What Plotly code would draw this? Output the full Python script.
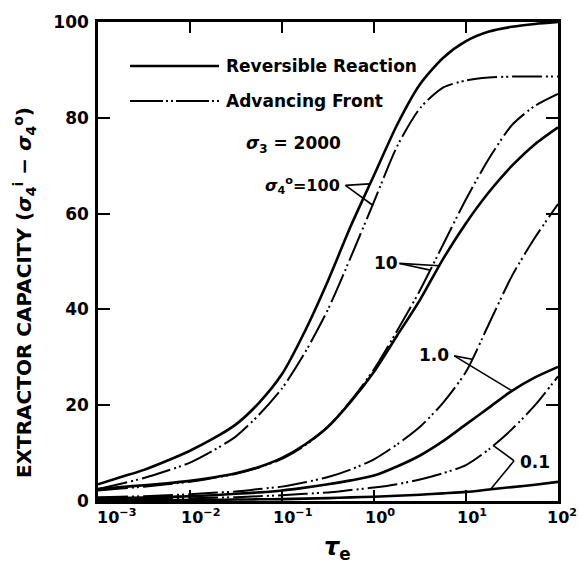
import plotly.graph_objects as go

# ---- data (every quarter decade of tau_e) ----
tau = [10 ** (k / 4.0) for k in range(-12, 9)]  # 1e-3 ... 1e2

rev_100 = [3.5, 5.0, 6.5, 8.4, 10.5, 13.0, 16.0, 20.5, 26.5, 35.5, 46.0, 57.5, 68.0, 78.5, 87.0, 92.5, 96.0, 98.0, 99.0, 99.6, 100.0]
adv_100 = [2.5, 3.6, 4.8, 6.3, 8.0, 10.5, 13.5, 18.0, 23.5, 31.0, 40.0, 51.0, 62.5, 74.0, 82.0, 86.3, 87.8, 88.4, 88.6, 88.6, 88.6]
rev_10 = [2.5, 2.9, 3.3, 3.7, 4.2, 4.9, 5.8, 7.1, 9.0, 11.8, 15.5, 20.8, 27.0, 34.5, 42.0, 50.5, 58.0, 64.5, 70.0, 74.5, 78.0]
adv_10 = [2.2, 2.6, 3.0, 3.5, 4.0, 4.8, 5.7, 7.0, 8.8, 11.6, 15.5, 21.0, 27.5, 35.5, 44.0, 53.5, 63.0, 71.5, 78.5, 82.5, 85.0]
rev_1 = [0.5, 0.6, 0.7, 0.85, 1.0, 1.2, 1.5, 1.8, 2.2, 2.8, 3.5, 4.3, 5.3, 7.2, 9.5, 12.5, 16.0, 19.5, 23.0, 25.8, 28.0]
adv_1 = [0.8, 0.9, 1.0, 1.2, 1.4, 1.7, 2.0, 2.5, 3.0, 3.9, 5.0, 6.6, 8.7, 11.8, 15.5, 20.5, 27.0, 37.0, 47.0, 55.0, 62.0]
rev_01 = [0.1, 0.12, 0.15, 0.17, 0.2, 0.25, 0.3, 0.35, 0.4, 0.5, 0.6, 0.75, 0.9, 1.1, 1.3, 1.6, 1.9, 2.4, 2.9, 3.4, 4.0]
adv_01 = [0.3, 0.35, 0.4, 0.5, 0.6, 0.7, 0.8, 1.0, 1.2, 1.5, 1.8, 2.3, 2.8, 3.5, 4.5, 5.8, 7.5, 10.8, 15.0, 20.0, 26.0]

x_tick_exps = [-3, -2, -1, 0, 1, 2]
y_tick_vals = [0, 20, 40, 60, 80, 100]

# label leader lines: (tau, value) start -> tip on curve
ptr_100 = [([0.49, 0.89], [65.9, 66.2]), ([0.49, 0.96], [65.9, 61.8])]
ptr_10 = [([1.89, 5.12], [49.6, 49.1]), ([1.89, 4.09], [49.6, 48.2])]
ptr_1 = [([7.45, 11.7], [30.3, 29.6]), ([7.45, 31.6], [30.3, 23.0])]
ptr_01 = [([33.3, 19.7], [8.4, 11.6]), ([33.3, 18.6], [8.4, 2.5])]

FONT = "DejaVu Sans, Liberation Sans, Arial, sans-serif"
DASH = "30px,4px,2px,3px,2px,4px"

fig = go.Figure()

for ys in [rev_100, rev_10, rev_1, rev_01]:
    fig.add_trace(go.Scatter(x=tau, y=ys, mode="lines",
                             line=dict(color="black", width=2.6, shape="spline", smoothing=0.7),
                             showlegend=False, hoverinfo="skip"))
for ys in [adv_100, adv_10, adv_1, adv_01]:
    fig.add_trace(go.Scatter(x=tau, y=ys, mode="lines",
                             line=dict(color="black", width=2.0, dash=DASH, shape="spline", smoothing=0.7),
                             showlegend=False, hoverinfo="skip"))

for group in (ptr_100, ptr_10, ptr_1, ptr_01):
    for xs, ys in group:
        fig.add_trace(go.Scatter(x=xs, y=ys, mode="lines", line=dict(color="black", width=1.6),
                                 showlegend=False, hoverinfo="skip"))

annotations = []
# x tick labels ("10" centred on the tick, exponent to its right)
for e in x_tick_exps:
    shift = -3 if e == -3 else (-13 if e == 2 else -11)
    annotations.append(dict(x=e, y=0, xref="x", yref="paper", xanchor="left", yanchor="top",
                            xshift=shift, yshift=-3, showarrow=False,
                            text="10<sup>" + ("−" if e < 0 else "") + str(abs(e)) + "</sup>",
                            font=dict(family=FONT, size=16, color="black", weight="bold")))


def pax(px):
    return (px - 98) / 460.0


def pay(py):
    return (501 - py) / 479.0


def txt(text, x, y, xanchor="center", size=17, **kw):
    annotations.append(dict(x=pax(x), y=pay(y), xref="paper", yref="paper", xanchor=xanchor, yanchor="middle",
                            showarrow=False, text=text,
                            font=dict(family=FONT, size=size, color="black", weight="bold"), **kw))


# legend texts
txt("Reversible Reaction", 224, 66, xanchor="left")
txt("Advancing Front", 224, 101, xanchor="left")
txt("<i>σ</i><sub>3</sub> = 2000", 293, 144)
txt("<i>σ</i><sub>4</sub><sup>o</sup>=100", 342, 185, xanchor="right", size=16)
txt("10", 386, 263)
txt("1.0", 451, 355, xanchor="right")
txt("0.1", 518, 462, xanchor="left")

# axis titles
txt("EXTRACTOR CAPACITY (<i>σ</i><sub>4</sub><sup>i</sup> − <i>σ</i><sub>4</sub><sup>o</sup>)", 25, 293, size=20,
    textangle=-90)
txt("<i>τ</i><sub>e</sub>", 337, 548, size=24)

shapes = [
    dict(type="line", xref="paper", yref="paper", x0=pax(130), x1=pax(219), y0=pay(66), y1=pay(66),
         line=dict(color="black", width=2.4)),
    dict(type="line", xref="paper", yref="paper", x0=pax(130), x1=pax(219), y0=pay(101), y1=pay(101),
         line=dict(color="black", width=2.0, dash="33px,3px,2px,3px,2px,3px")),
]

fig.update_layout(
    width=579, height=565,
    margin=dict(l=98, r=21, t=22, b=64),
    paper_bgcolor="white", plot_bgcolor="white",
    showlegend=False,
    annotations=annotations,
    shapes=shapes,
)
fig.update_xaxes(type="log", range=[-3, 2], showgrid=False, zeroline=False,
                 showline=True, linecolor="black", linewidth=2.5, mirror="ticks",
                 ticks="inside", ticklen=11, tickwidth=2, tickcolor="black",
                 tickvals=[10 ** e for e in x_tick_exps], showticklabels=False)
fig.update_yaxes(range=[0, 100], showgrid=False, zeroline=False,
                 showline=True, linecolor="black", linewidth=2.5, mirror="ticks",
                 ticks="inside", ticklen=12, tickwidth=2, tickcolor="black",
                 tickvals=y_tick_vals, ticktext=[str(v) for v in y_tick_vals],
                 ticklabelstandoff=3,
                 tickfont=dict(family=FONT, size=17, color="black", weight="bold"))

fig.write_html("out.html")
